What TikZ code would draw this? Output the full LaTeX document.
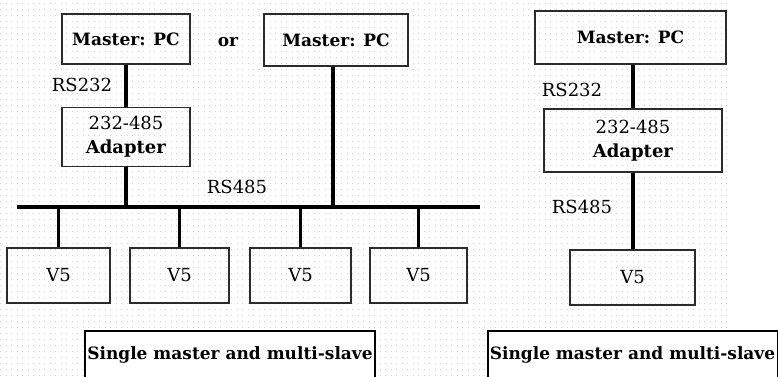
\documentclass[tikz,border=0pt]{standalone}
\usepackage{fontspec}
\setmainfont{DejaVu Serif}
\usetikzlibrary{positioning, calc}
\definecolor{boxline}{HTML}{2B2B2B}
\definecolor{dotgray}{HTML}{CFCFCF}

\tikzset{
  unit/.style={draw=boxline, line width=1.8pt, inner sep=0pt, align=center,
    font=\rmfamily\fontsize{18}{21}\selectfont},
  wire/.style={line width=3.5pt, black},
  lbl/.style={inner sep=0pt, font=\rmfamily\fontsize{18}{21}\selectfont},
  master/.style={font=\rmfamily\bfseries\fontsize{17}{20}\selectfont},
  capbox/.style={draw=black, line width=2pt, fill=white, inner sep=0pt,
    minimum width=290pt, minimum height=48pt, anchor=north,
    font=\rmfamily\bfseries\fontsize{17}{20}\selectfont}
}

\begin{document}
\begin{tikzpicture}[x=1pt, y=-1pt]
  \useasboundingbox (0,0) rectangle (778,376);
  % dotted backdrop
  \foreach \r in {3,9,...,375}
    \draw[dotgray, line width=1pt, dash pattern=on 1pt off 4.5pt] (0,\r) -- (730,\r);

  % Left: master with adapter, or master direct
  \node[unit, master, minimum width=128pt, minimum height=50pt] (pc1) at (126,39) {Master: PC};
  \node[lbl, master] (orword) at (228,42) {or};
  \node[unit, master, minimum width=144pt, minimum height=52pt] (pc2) at (336,40) {Master: PC};
  \node[unit, minimum width=128pt, minimum height=59pt] (ad1) at (126,137) {232-485\\[3pt]\textbf{Adapter}};
  \node[lbl] (rs232a) at (82,85) {RS232};
  \node[lbl] (rs485a) at (237,187) {RS485};

  % Bus and slaves
  \coordinate (busL) at (17,207);
  \coordinate (busR) at (480,207);
  \node[unit, minimum width=103pt, minimum height=55pt] (va) at (58.5,275.5) {V5};
  \node[unit, minimum width=99pt, minimum height=55pt] (vb) at (179.5,275.5) {V5};
  \node[unit, minimum width=101pt, minimum height=55pt] (vc) at (300.5,275.5) {V5};
  \node[unit, minimum width=97pt, minimum height=55pt] (vd) at (418.5,275.5) {V5};

  \draw[wire] (pc1) -- (ad1);
  \draw[wire] (ad1.south) -- (ad1.south |- busL);
  \draw[wire] ([xshift=-3pt]pc2.south) -- ([xshift=-3pt]pc2.south |- busL);
  \draw[wire] (busL) -- (busR);
  \foreach \s in {va,vb,vc,vd}
    \draw[wire] (\s.north) -- (\s.north |- busL);

  % Right: single slave
  \node[unit, master, minimum width=191pt, minimum height=53pt] (pc3) at (630.5,37.5) {Master: PC};
  \node[unit, minimum width=178pt, minimum height=63pt] (ad2) at (633,140.5) {232-485\\[3pt]\textbf{Adapter}};
  \node[unit, minimum width=125pt, minimum height=55pt] (ve) at (632.5,277.5) {V5};
  \node[lbl] (rs232b) at (572,90) {RS232};
  \node[lbl] (rs485b) at (582,207) {RS485};
  \draw[wire] (pc3.south -| ad2.north) -- (ad2.north);
  \draw[wire] (ad2.south) -- (ad2.south |- ve.north);

  % Captions
  \node[capbox] (capL) at (230,330) {Single master and multi-slave};
  \node[capbox] (capR) at (632.5,330) {Single master and multi-slave};
\end{tikzpicture}
\end{document}
